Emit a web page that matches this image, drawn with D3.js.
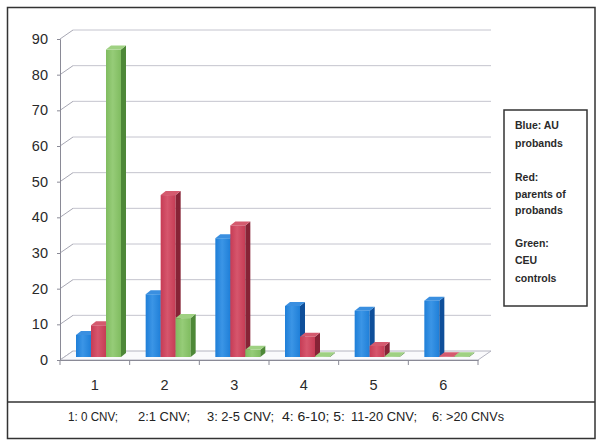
<!DOCTYPE html>
<html>
<head>
<meta charset="utf-8">
<script src="https://cdn.jsdelivr.net/npm/d3@7"></script>
<style>
  body { margin: 0; background: #fff; }
  text { font-family: "Liberation Sans", Arial, sans-serif; }
</style>
</head>
<body>
<div id="chart"></div>
<script>
// data
const categories = ["1", "2", "3", "4", "5", "6"];
const seriesNames = ["blue", "red", "green"];
const blueValues = [6.2, 17.6, 33.3, 14.3, 13.0, 15.8];
const redValues = [8.9, 45.4, 36.9, 5.7, 3.1, 0.2];
const greenValues = [86.2, 10.9, 2.0, 0.2, 0.2, 0.2];
const yTicks = [0, 10, 20, 30, 40, 50, 60, 70, 80, 90];
const legendLines = ["Blue: AU", "probands", "", "Red:", "parents of", "probands", "", "Green:", "CEU", "controls"];
const keyLabels = ["1: 0 CNV;", "2:1 CNV;", "3: 2-5 CNV;", "4: 6-10; 5:", "11-20 CNV;", "6: >20 CNVs"];

const width = 601, height = 448;
const depth = { dx: 13, dy: -9 };     // back wall offset
const barDepth = { dx: 5, dy: -4 };   // bar side depth
const colors = {
  blue: { front: "#1f7fd8", light: "#3b95e6", side: "#0f4f9a", top: "#3a8fe0" },
  red: { front: "#c63c55", light: "#d6566d", side: "#862336", top: "#d45a6e" },
  green: { front: "#80bc60", light: "#96cc78", side: "#4e8838", top: "#9fd182" },
};

const svg = d3.select("#chart").append("svg")
  .attr("width", width).attr("height", height);

const defs = svg.append("defs");
seriesNames.forEach((s) => {
  const g = defs.append("linearGradient").attr("id", "grad-" + s)
    .attr("x1", "0").attr("x2", "1").attr("y1", "0").attr("y2", "0");
  g.append("stop").attr("offset", "0").attr("stop-color", colors[s].front);
  g.append("stop").attr("offset", "0.45").attr("stop-color", colors[s].light);
  g.append("stop").attr("offset", "1").attr("stop-color", colors[s].front);
});

const x = d3.scaleBand().domain(categories).range([60, 478]).padding(0);
const xs = d3.scaleBand().domain(seriesNames).range([16, 61]).padding(0);
const y = d3.scaleLinear().domain([0, 90]).range([360, 39]);

// gridlines on back wall with short diagonals
const grid = svg.append("g");
yTicks.forEach((t) => {
  grid.append("line")
    .attr("x1", 60).attr("y1", y(t))
    .attr("x2", 60 + depth.dx).attr("y2", y(t) + depth.dy)
    .attr("stroke", "#a8a8b4").attr("stroke-width", 1);
  if (t > 0) {
    grid.append("line")
      .attr("x1", 60 + depth.dx).attr("y1", y(t) + depth.dy)
      .attr("x2", 478 + depth.dx).attr("y2", y(t) + depth.dy)
      .attr("stroke", "#c4c4ce").attr("stroke-width", 1);
  }
});

// floor
svg.append("path")
  .attr("d", `M60,${y(0)} L478,${y(0)} L${478 + depth.dx},${y(0) + depth.dy} L${60 + depth.dx},${y(0) + depth.dy} Z`)
  .attr("fill", "#fafafc").attr("stroke", "#b4b4c0").attr("stroke-width", 1);

// y axis
const yAxis = svg.append("g").attr("transform", "translate(60,0)")
  .call(d3.axisLeft(y).tickValues(yTicks).tickSize(3).tickPadding(9));
yAxis.select(".domain").attr("stroke", "#8a8a96");
yAxis.selectAll(".tick line").attr("stroke", "#8a8a96");
yAxis.selectAll(".tick text").attr("font-size", 14.5).attr("fill", "#2a2a2a");

// x axis
const xAxis = svg.append("g").attr("transform", `translate(0,${y(0)})`)
  .call(d3.axisBottom(x).tickSize(0).tickPadding(20));
xAxis.select(".domain").attr("stroke", "#8a8a96");
xAxis.selectAll(".tick text").attr("font-size", 14.5).attr("fill", "#2a2a2a");
xAxis.selectAll(".bound").data(categories.concat(["end"])).join("line")
  .attr("x1", (d, i) => 60 + i * x.bandwidth())
  .attr("x2", (d, i) => 60 + i * x.bandwidth())
  .attr("y1", 0).attr("y2", 5)
  .attr("stroke", "#8a8a96");

// bars
const rows = categories.map((c, i) => ({
  cat: c,
  vals: [
    { s: "blue", v: blueValues[i] },
    { s: "red", v: redValues[i] },
    { s: "green", v: greenValues[i] },
  ],
}));
const bw = xs.bandwidth();
rows.forEach((row) => {
  row.vals.forEach((d) => {
    const x0 = x(row.cat) + xs(d.s);
    const yb = y(0) - 3;
    const yt = y(d.v) - 3;
    const g = svg.append("g");
    g.append("rect")
      .attr("x", x0).attr("y", yt).attr("width", bw).attr("height", yb - yt)
      .attr("fill", `url(#grad-${d.s})`);
    g.append("path")
      .attr("d", `M${x0 + bw},${yt} L${x0 + bw + barDepth.dx},${yt + barDepth.dy} L${x0 + bw + barDepth.dx},${yb + barDepth.dy} L${x0 + bw},${yb} Z`)
      .attr("fill", colors[d.s].side);
    g.append("path")
      .attr("d", `M${x0},${yt} L${x0 + barDepth.dx},${yt + barDepth.dy} L${x0 + bw + barDepth.dx},${yt + barDepth.dy} L${x0 + bw},${yt} Z`)
      .attr("fill", colors[d.s].top);
  });
});

// legend box
svg.append("rect").attr("x", 504).attr("y", 110).attr("width", 83).attr("height", 196)
  .attr("fill", "none").attr("stroke", "#333").attr("stroke-width", 1.5);
const legendY = [129, 147, 164, 181, 198, 214, 231, 247, 264, 282];
svg.append("g").selectAll("text").data(legendLines).join("text")
  .attr("x", 515).attr("y", (d, i) => legendY[i])
  .attr("font-size", 10.5).attr("font-weight", "bold").attr("fill", "#2a2a2a")
  .text((d) => d);

// outer frame and key box
svg.append("rect").attr("x", 7.5).attr("y", 7.5).attr("width", 587.5).attr("height", 431)
  .attr("fill", "none").attr("stroke", "#333").attr("stroke-width", 1.5);
svg.append("line").attr("x1", 7.5).attr("x2", 595).attr("y1", 402).attr("y2", 402)
  .attr("stroke", "#333").attr("stroke-width", 1.5);
const keyX = [68, 138, 207, 282, 351, 432];
const keyW = [50, 52, 67, 63, 66, 72];
svg.append("g").selectAll("text").data(keyLabels).join("text")
  .attr("x", (d, i) => keyX[i]).attr("y", 421)
  .attr("font-size", 12).attr("fill", "#222")
  .attr("textLength", (d, i) => keyW[i])
  .attr("lengthAdjust", "spacingAndGlyphs")
  .text((d) => d);
</script>
</body>
</html>
